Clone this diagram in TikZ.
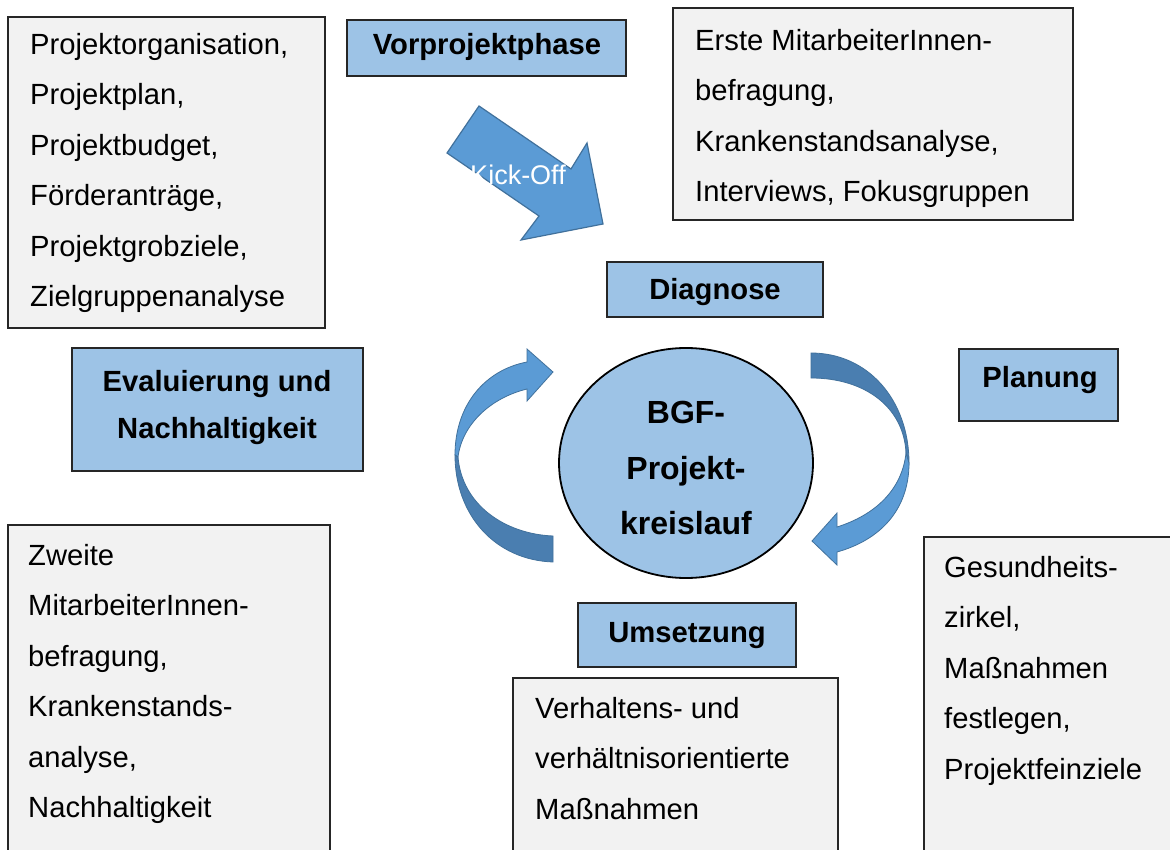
\documentclass[tikz,border=0pt]{standalone}
\usepackage{fontspec}
\setmainfont{Liberation Sans}
\usetikzlibrary{shapes.geometric}
\definecolor{greyfill}{HTML}{F2F2F2}
\definecolor{bluefill}{HTML}{9DC3E6}
\definecolor{arrlight}{HTML}{5B9BD5}
\definecolor{arrdark}{HTML}{4A7EB0}
\definecolor{arrline}{HTML}{41719C}
\newcommand\bodyfont{\fontsize{29.2}{50.5}\selectfont}
\newcommand\labelfont{\fontsize{29.2}{47.5}\selectfont\bfseries}
\newcommand\circfont{\fontsize{32}{55.5}\selectfont\bfseries}
\begin{document}
\begin{tikzpicture}[x=1pt,y=-1pt,
  boxbase/.style={draw=black!85,line width=1.2pt,anchor=north west,inner sep=0pt,outer sep=0pt},
  greybox/.style={boxbase,fill=greyfill},
  bluebox/.style={boxbase,fill=bluefill},
  bodytext/.style={anchor=north west,inner sep=0pt,align=left,font=\bodyfont},
  boxlabel/.style={anchor=base,inner sep=0pt,align=center,font=\labelfont},
  lightarrow/.style={fill=arrlight,draw=arrline,line width=0.8pt,line join=miter},
  darkarrow/.style={fill=arrdark,draw=arrline,line width=0.8pt}]
\useasboundingbox (0,0) rectangle (1170,850);
\fill[white] (0,0) rectangle (1170,850);
\clip (0,0) rectangle (1170,850);

% grey boxes
\node[greybox,minimum width=317pt,minimum height=311pt] (tl) at (8,17) {};
\node[bodytext] (tltext) at (30,32.7) {Projektorganisation,\\Projektplan,\\Projektbudget,\\Förderanträge,\\Projektgrobziele,\\Zielgruppenanalyse};

\node[greybox,minimum width=400pt,minimum height=212pt] (tr) at (673,8) {};
\node[bodytext] (trtext) at (695,28.7) {Erste MitarbeiterInnen-\\befragung,\\Krankenstandsanalyse,\\Interviews, Fokusgruppen};

\node[greybox,minimum width=322pt,minimum height=340pt] (bl) at (8,525) {};
\node[bodytext] (bltext) at (28,543.7) {Zweite\\MitarbeiterInnen-\\befragung,\\Krankenstands-\\analyse,\\Nachhaltigkeit};

\node[greybox,minimum width=325pt,minimum height=190pt] (bm) at (513,678) {};
\node[bodytext] (bmtext) at (535,696.7) {Verhaltens- und\\verhältnisorientierte\\Maßnahmen};

\node[greybox,minimum width=260pt,minimum height=330pt] (br) at (924,537) {};
\node[bodytext] (brtext) at (944,555.7) {Gesundheits-\\zirkel,\\Maßnahmen\\festlegen,\\Projektfeinziele};

% blue boxes
\node[bluebox,minimum width=279pt,minimum height=56pt] (vor) at (347,20) {};
\node[boxlabel] (vortext) at (487,55) {Vorprojektphase};

\node[bluebox,minimum width=216pt,minimum height=55pt] (diag) at (607,262) {};
\node[boxlabel] (diagtext) at (715,300) {Diagnose};

\node[bluebox,minimum width=159pt,minimum height=72pt] (plan) at (959,349) {};
\node[boxlabel] (plantext) at (1040,387) {Planung};

\node[bluebox,minimum width=291pt,minimum height=123pt] (eval) at (72,348) {};
\node[boxlabel] (evaltext1) at (217,391) {Evaluierung und};
\node[boxlabel] (evaltext2) at (217,438) {Nachhaltigkeit};

\node[bluebox,minimum width=218pt,minimum height=64pt] (ums) at (578,603) {};
\node[boxlabel] (umstext) at (687,642) {Umsetzung};

% central circle
\node[draw=black,line width=1.8pt,fill=bluefill,ellipse,minimum width=254pt,minimum height=230pt,inner sep=0pt] (circ) at (686,463) {};
\node[anchor=base,inner sep=0pt,font=\circfont] (c1) at (686,423) {BGF-};
\node[anchor=base,inner sep=0pt,font=\circfont] (c2) at (686,479) {Projekt-};
\node[anchor=base,inner sep=0pt,font=\circfont] (c3) at (686,534) {kreislauf};

% kick-off arrow
\draw[fill=arrlight,draw=arrline,line width=1.2pt,line join=miter]
  (479,106) -- (571,169) -- (587,143) -- (603,224) -- (521,240) -- (539,216) -- (447,153) -- cycle;
\node[anchor=base,inner sep=0pt,text=white,font=\fontsize{27}{30}\selectfont] (kick) at (518,185) {Kick-Off};

% right curved arrow
\draw[darkarrow] (811,353) .. controls (868,353) and (909,400) .. (909,463)
  -- (906,453) .. controls (904,408) and (866,378) .. (811,378) -- cycle;
\draw[lightarrow] (909,463) .. controls (909,510) and (880,540) .. (837,552)
  -- (837,565) -- (812,541) -- (837,513) -- (837,527)
  .. controls (875,515) and (902,490) .. (906,453) -- cycle;

% left curved arrow
\draw[lightarrow] (527,362) -- (527,349) -- (553,372) -- (527,401) -- (527,389)
  .. controls (490,398) and (462,425) .. (458,457)
  -- (455,455) .. controls (455,405) and (485,370) .. (527,362) -- cycle;
\draw[darkarrow] (455,455) .. controls (455,515) and (495,560) .. (553,562)
  -- (553,536) .. controls (505,534) and (462,505) .. (458,457) -- cycle;
\end{tikzpicture}
\end{document}
